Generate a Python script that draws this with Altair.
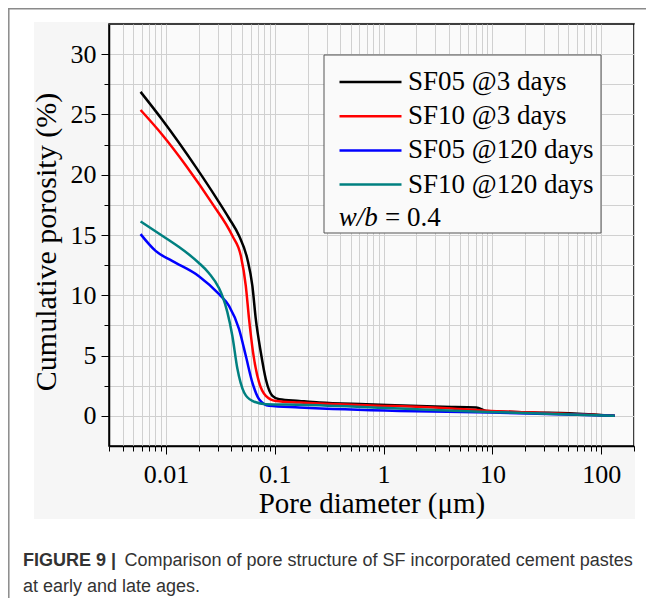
import altair as alt
import pandas as pd

SERIF = "Liberation Serif"
SANS = "Liberation Sans"

series_names = ["SF05 @3 days", "SF10 @3 days", "SF05 @120 days", "SF10 @120 days"]
series_colors = ["#000000", "#ff0000", "#0000ff", "#008080"]

# pore diameter (um) and cumulative porosity (%)
sf05_3d_d = [0.00585, 0.00925, 0.0188, 0.0308, 0.0380, 0.0470, 0.0561, 0.0623, 0.0670, 0.0745,
             0.0828, 0.0952, 0.110, 0.168, 0.256, 0.69, 3.5, 7.1, 8.8, 23.6, 51, 133]
sf05_3d_p = [26.87, 24.56, 20.65, 17.71, 16.39, 14.93, 12.99, 10.78, 8.02, 5.26,
             3.04, 1.66, 1.38, 1.24, 1.11, 0.97, 0.76, 0.70, 0.41, 0.28, 0.22, 0.0]

sf10_3d_d = [0.00585, 0.00925, 0.0152, 0.0267, 0.0408, 0.0488, 0.0542, 0.0581, 0.0632, 0.0718,
             0.0828, 0.1024, 0.168, 0.69, 3.5, 8.8, 23.6, 133]
sf10_3d_p = [25.37, 23.32, 20.79, 17.60, 14.93, 13.27, 10.78, 8.02, 5.26, 2.77,
             1.66, 1.24, 1.11, 0.89, 0.66, 0.43, 0.28, 0.0]

sf05_120d_d = [0.00585, 0.00804, 0.0114, 0.0201, 0.0308, 0.0380, 0.0470, 0.0542, 0.0623, 0.0718,
               0.0888, 0.168, 1.40, 9.4, 133]
sf05_120d_p = [15.07, 13.68, 12.85, 11.58, 10.09, 9.12, 7.19, 4.98, 2.76, 1.38,
               0.83, 0.70, 0.41, 0.28, 0.0]

sf10_120d_d = [0.00585, 0.00994, 0.0132, 0.0163, 0.0201, 0.0249, 0.0308, 0.0330, 0.0367, 0.0408,
               0.0453, 0.0523, 0.0623, 0.0828, 0.168, 1.40, 8.8, 133]
sf10_120d_p = [16.12, 14.75, 14.00, 13.38, 12.68, 11.83, 10.58, 9.95, 8.60, 6.63,
               3.95, 1.94, 1.24, 0.97, 0.92, 0.61, 0.33, 0.0]

x_major = [0.01, 0.1, 1, 10, 100]
y_major = [0, 5, 10, 15, 20, 25, 30]

x_domain = [0.003, 200]
y_domain = [-2.5, 32.5]

caption_bold = "FIGURE 9 |"
caption_line1 = "Comparison of pore structure of SF incorporated cement pastes"
caption_line2 = "at early and late ages."

# ---------------------------------------------------------------------------
rows = []
for name, ds, ps in [
    (series_names[0], sf05_3d_d, sf05_3d_p),
    (series_names[1], sf10_3d_d, sf10_3d_p),
    (series_names[2], sf05_120d_d, sf05_120d_p),
    (series_names[3], sf10_120d_d, sf10_120d_p),
]:
    for d, p in zip(ds, ps):
        rows.append({"series": name, "d": d, "p": p})
df = pd.DataFrame(rows)

x_ticks = []
for e in range(-3, 3):
    for m in range(1, 10):
        v = round(m * 10 ** e, 6)
        if x_domain[0] <= v <= x_domain[1]:
            x_ticks.append(v)
y_ticks = [i * 2.5 for i in range(0, 13)]

x_test = "indexof(" + str(x_major) + ", datum.value) >= 0"
y_test = "datum.value % 5 === 0"

x_axis = alt.Axis(
    values=x_ticks, grid=True, gridColor="#d0d0d0", gridWidth=1,
    tickSize={"condition": {"test": x_test, "value": 8}, "value": 5},
    tickColor="black", tickWidth=1, domainColor="black", domainWidth=1.5,
    format="~g", labelExpr=x_test + " ? datum.label : ''",
    labelFont=SERIF, labelFontSize=26, labelColor="black",
    labelBaseline="alphabetic", labelPadding=28, labelOverlap=False, labelFlush=False,
    title="Pore diameter (μm)", titleFont=SERIF, titleFontSize=29, titleFontWeight="normal",
    titleColor="black", titleX=262.5, titleY=66, titleBaseline="alphabetic", titleAlign="center",
)
y_axis = alt.Axis(
    values=y_ticks, grid=True, gridColor="#d0d0d0", gridWidth=1,
    tickSize={"condition": {"test": y_test, "value": 8}, "value": 5},
    tickColor="black", tickWidth=1, domainColor="black", domainWidth=1.5,
    format="~g", labelExpr=y_test + " ? datum.label : ''",
    labelFont=SERIF, labelFontSize=26, labelColor="black", labelPadding=5,
    labelOverlap=False, labelFlush=False,
    title="Cumulative porosity (%)", titleFont=SERIF, titleFontSize=30, titleFontWeight="normal",
    titleColor="black", titleX=-53.5, titleY=217.5, titleBaseline="alphabetic", titleAlign="center",
)

one = pd.DataFrame({"k": [0]})
W, H = 525, 422

def strip(x1, x2, y1, y2, color):
    return alt.Chart(one).mark_rect(color=color).encode(
        x=alt.value(x1), x2=alt.value(x2), y=alt.value(y1), y2=alt.value(y2))

white = "#ffffff"
strips = [
    strip(-101, -75, -16, 580, white),
    strip(-101, 538, -16, -2, white),
    strip(526, 538, -16, 580, white),
    strip(-101, 538, 495, 580, white),
]

frame_v = alt.Chart(one).mark_rule(color="#8a8a8a", strokeWidth=1.5).encode(
    x=alt.value(-100.2), y=alt.value(-16), y2=alt.value(580))
frame_h = alt.Chart(one).mark_rule(color="#8a8a8a", strokeWidth=1.5).encode(
    x=alt.value(-101), x2=alt.value(538), y=alt.value(-15.2))

lines = alt.Chart(df).mark_line(strokeWidth=2.5, interpolate="monotone").encode(
    x=alt.X("d:Q", scale=alt.Scale(type="log", domain=x_domain, nice=False), axis=x_axis),
    y=alt.Y("p:Q", scale=alt.Scale(domain=y_domain, nice=False, zero=False), axis=y_axis),
    color=alt.Color(
        "series:N",
        scale=alt.Scale(domain=series_names, range=series_colors),
        sort=series_names,
        legend=alt.Legend(
            orient="none", legendX=229, legendY=42, title=None,
            symbolType="stroke", symbolSize=3844, symbolStrokeWidth=2.5,
            clipHeight=32, rowPadding=2.2, padding=0,
            labelFont=SERIF, labelFontSize=27, labelColor="black",
            labelOffset=5, labelLimit=400, labelBaseline="middle",
        ),
    ),
    detail="series:N",
)

legend_box = alt.Chart(one).mark_rect(fill="#fafafa", stroke="#555555", strokeWidth=1).encode(
    x=alt.value(215), x2=alt.value(492), y=alt.value(31), y2=alt.value(209))

wb1 = alt.Chart(one).mark_text(text="w/b", font=SERIF, fontSize=27, fontStyle="italic",
                               align="left", baseline="alphabetic", color="black").encode(
    x=alt.value(229.7), y=alt.value(202))
wb2 = alt.Chart(one).mark_text(text="= 0.4", font=SERIF, fontSize=27,
                               align="left", baseline="alphabetic", color="black").encode(
    x=alt.value(276), y=alt.value(202))

cap0 = alt.Chart(one).mark_text(text=caption_bold, font=SANS, fontSize=18, fontWeight="bold",
                                align="left", baseline="alphabetic", color="#333333").encode(
    x=alt.value(-86), y=alt.value(542))
cap1 = alt.Chart(one).mark_text(text=caption_line1, font=SANS, fontSize=18,
                                align="left", baseline="alphabetic", color="#333333").encode(
    x=alt.value(15.5), y=alt.value(542))
cap2 = alt.Chart(one).mark_text(text=caption_line2, font=SANS, fontSize=18,
                                align="left", baseline="alphabetic", color="#333333").encode(
    x=alt.value(-86), y=alt.value(568))

chart = alt.layer(
    *strips, frame_v, frame_h, lines, legend_box, wb1, wb2, cap0, cap1, cap2
).properties(
    width=W, height=H,
    autosize=alt.AutoSizeParams(type="none"),
    padding={"left": 101, "top": 16, "right": 12, "bottom": 152},
).configure(
    background="#f6f6f6",
).configure_view(
    fill="#fafafa", stroke="black", strokeWidth=1.5,
)

chart.save("out.html", embed_options={"renderer": "svg", "actions": False})
